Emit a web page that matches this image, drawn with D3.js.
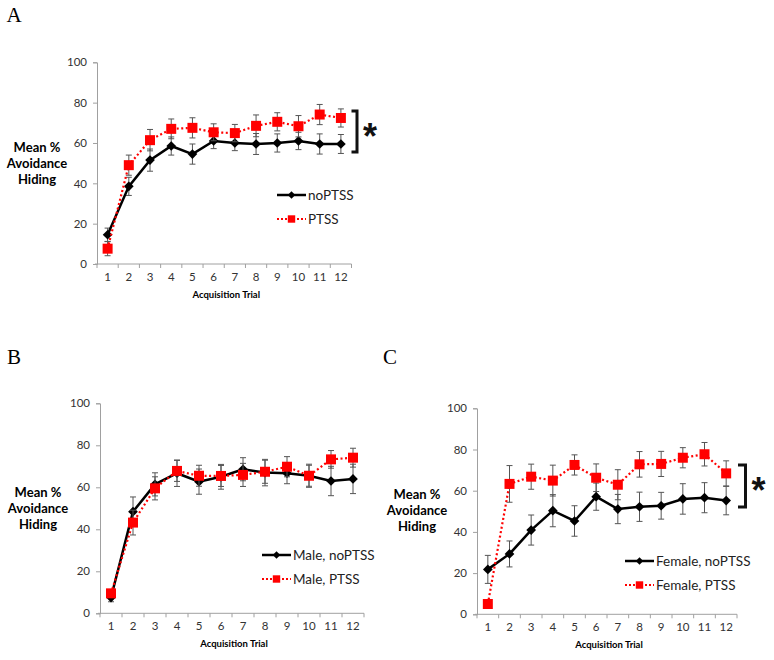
<!DOCTYPE html>
<html>
<head>
<meta charset="utf-8">
<script src="https://cdn.jsdelivr.net/npm/d3@7"></script>
<style>
  body { margin: 0; background: #fff; }
  svg { display: block; }
</style>
</head>
<body>
<svg id="chart" width="774" height="660"></svg>
<script>
// ---- data ----
const trials = ["1", "2", "3", "4", "5", "6", "7", "8", "9", "10", "11", "12"];
const yTicks = [0, 20, 40, 60, 80, 100];

// panel A: all subjects
const allNoPtss = [14.5, 38.5, 51.5, 58.5, 54.5, 61, 60, 59.5, 60, 61, 59.5, 59.5];
const allNoPtssErr = [3.3, 4.5, 5.5, 4.5, 5, 3.8, 3.8, 5.2, 4.5, 4.3, 5, 4.7];
const allPtss = [7.6, 49, 61.4, 67, 67.5, 65.3, 64.9, 68.5, 70.5, 68.3, 74.1, 72.4];
const allPtssErr = [3.5, 5, 5.3, 4.9, 5, 4.2, 4.3, 5.4, 4.5, 5.3, 5, 4.5];

// panel B: males
const maleNoPtss = [7.5, 48.4, 61.4, 66.7, 62.7, 65, 68.6, 67, 66.7, 65.5, 63, 64];
const maleNoPtssErr = [2, 7, 5.5, 6.3, 6, 5.9, 5.5, 6.3, 5, 5.5, 7, 7];
const malePtss = [9.5, 43.2, 59.5, 67.8, 65.5, 65.4, 65.9, 67.4, 69.8, 65.5, 73.3, 74.1];
const malePtssErr = [1.5, 5.9, 5.5, 5, 5, 5, 5.5, 5.5, 4.8, 5, 4.2, 4.5];

// panel C: females
const femaleNoPtss = [21.8, 29.3, 40.9, 50.3, 45.3, 57.1, 51.1, 52.2, 52.7, 56, 56.6, 55.2];
const femaleNoPtssErr = [6.8, 6.3, 7.3, 7.8, 7.4, 6.6, 7.1, 7.1, 6.5, 7.4, 7.3, 6.9];
const femalePtss = [5, 63.3, 66.8, 64.9, 72.5, 66.3, 62.9, 72.8, 73, 76, 77.7, 68.4];
const femalePtssErr = [0.8, 8.9, 6.1, 7.5, 4.9, 6.7, 7.3, 6.2, 6.1, 4.9, 5.7, 6.1];

const svg = d3.select("#chart");
const uiFont = "Lato, 'Open Sans', sans-serif";

function drawPanel(p) {
    const g = svg.append("g");

    const x = d3.scaleBand().domain(trials).range([p.left, p.right]);
    const y = d3.scaleLinear().domain([0, 100]).range([p.bottom, p.top]);
    const cx = d => x(d) + x.bandwidth() / 2;

    // panel letter
    g.append("text")
        .attr("x", p.letterX).attr("y", p.letterY)
        .attr("text-anchor", "middle")
        .attr("font-family", "'Liberation Serif', 'DejaVu Serif', serif")
        .attr("font-size", 21)
        .text(p.letter);

    // y axis
    const yAxis = g.append("g")
        .attr("transform", `translate(${p.left},0)`)
        .call(d3.axisLeft(y).tickValues(yTicks).tickSize(4).tickPadding(6));
    yAxis.select(".domain").attr("stroke", "#a0a0a0");
    yAxis.selectAll(".tick line").attr("stroke", "#a0a0a0");
    yAxis.selectAll("text").attr("font-family", uiFont).attr("font-size", 11.5).attr("fill", "#333");

    // x axis (ticks at category boundaries, like Excel)
    const xAxis = g.append("g")
        .attr("transform", `translate(0,${p.bottom})`)
        .call(d3.axisBottom(x).tickSize(0).tickPadding(9));
    xAxis.select(".domain").attr("stroke", "#a0a0a0")
        .attr("d", `M${p.left - 2},0H${p.right}`);
    xAxis.selectAll("text").attr("font-family", uiFont).attr("font-size", 11.5).attr("fill", "#333");
    xAxis.selectAll(".boundary")
        .data(d3.range(trials.length + 1))
        .join("line")
        .attr("class", "boundary")
        .attr("x1", i => p.left + i * x.step())
        .attr("x2", i => p.left + i * x.step())
        .attr("y1", 0).attr("y2", 4)
        .attr("stroke", "#a0a0a0");

    g.append("text")
        .attr("x", (p.left + p.right) / 2 + 2)
        .attr("y", p.bottom + 34)
        .attr("text-anchor", "middle")
        .attr("font-family", uiFont)
        .attr("font-weight", "bold")
        .attr("font-size", 9.5)
        .text("Acquisition Trial");

    // y label
    const ylab = g.append("text")
        .attr("text-anchor", "middle")
        .attr("font-family", uiFont)
        .attr("font-weight", "bold")
        .attr("font-size", 13);
    ["Mean %", "Avoidance", "Hiding"].forEach((t, i) => {
        ylab.append("tspan")
            .attr("x", p.ylabX)
            .attr("y", p.ylabY + i * 16)
            .text(t);
    });

    const line = d3.line().x((d, i) => cx(trials[i])).y(d => y(d));
    const diamond = d3.symbol().type(d3.symbolDiamond2).size(60);
    const square = d3.symbol().type(d3.symbolSquare).size(100);

    p.series.forEach(s => {
        const sg = g.append("g");
        // error bars
        const eb = sg.selectAll(".err")
            .data(s.values.map((v, i) => ({ v, e: s.err[i], t: trials[i] })))
            .join("g");
        eb.append("line")
            .attr("x1", d => cx(d.t)).attr("x2", d => cx(d.t))
            .attr("y1", d => y(d.v - d.e)).attr("y2", d => y(d.v + d.e))
            .attr("stroke", "#555").attr("stroke-width", 1);
        [1, -1].forEach(sign => {
            eb.append("line")
                .attr("x1", d => cx(d.t) - 3).attr("x2", d => cx(d.t) + 3)
                .attr("y1", d => y(d.v + sign * d.e)).attr("y2", d => y(d.v + sign * d.e))
                .attr("stroke", "#555").attr("stroke-width", 1);
        });

        sg.append("path")
            .datum(s.values)
            .attr("fill", "none")
            .attr("stroke", s.color)
            .attr("stroke-width", s.dotted ? 2.2 : 2.5)
            .attr("stroke-dasharray", s.dotted ? "2,2.5" : null)
            .attr("d", line);

        sg.selectAll(".mk")
            .data(s.values)
            .join("path")
            .attr("transform", (d, i) => `translate(${cx(trials[i])},${y(d)})`)
            .attr("d", s.dotted ? square : diamond)
            .attr("fill", s.color);
    });

    // legend
    const leg = g.append("g");
    p.series.forEach((s, i) => {
        const ly = p.legY + i * 24;
        leg.append("line")
            .attr("x1", p.legX).attr("x2", p.legX + 29)
            .attr("y1", ly).attr("y2", ly)
            .attr("stroke", s.color)
            .attr("stroke-width", s.dotted ? 2 : 2.5)
            .attr("stroke-dasharray", s.dotted ? "2,2" : null);
        leg.append("path")
            .attr("transform", `translate(${p.legX + 14.5},${ly})`)
            .attr("d", s.dotted ? d3.symbol().type(d3.symbolSquare).size(55)()
                                : d3.symbol().type(d3.symbolDiamond2).size(35)())
            .attr("fill", s.color);
        leg.append("text")
            .attr("x", p.legX + 31).attr("y", ly)
            .attr("dy", "0.35em")
            .attr("font-family", uiFont)
            .attr("font-size", 13.5)
            .attr("fill", "#222")
            .text(s.name);
    });

    // significance bracket
    if (p.bracket) {
        const b = p.bracket;
        g.append("path")
            .attr("d", `M${b.x},${b.y1}H${b.x + b.w}V${b.y2}H${b.x}`)
            .attr("fill", "none")
            .attr("stroke", "#111")
            .attr("stroke-width", 3);
        g.append("text")
            .attr("x", b.x + b.w + 13)
            .attr("y", (b.y1 + b.y2) / 2 + 17)
            .attr("text-anchor", "middle")
            .attr("font-family", "'Liberation Sans', Arial, sans-serif")
            .attr("font-weight", "bold")
            .attr("font-size", 36)
            .attr("fill", "#111")
            .text("*");
    }
}

drawPanel({
    letter: "A", letterX: 14, letterY: 22,
    left: 97, right: 351.5, top: 62.3, bottom: 264,
    ylabX: 37, ylabY: 152,
    legX: 277, legY: 195,
    bracket: { x: 351.5, w: 5.5, y1: 111, y2: 152 },
    series: [
        { name: "noPTSS", values: allNoPtss, err: allNoPtssErr, color: "#000", dotted: false },
        { name: "PTSS", values: allPtss, err: allPtssErr, color: "#ff0000", dotted: true }
    ]
});

drawPanel({
    letter: "B", letterX: 14, letterY: 364,
    left: 100, right: 364, top: 403.3, bottom: 613.3,
    ylabX: 38, ylabY: 497,
    legX: 262, legY: 555,
    series: [
        { name: "Male, noPTSS", values: maleNoPtss, err: maleNoPtssErr, color: "#000", dotted: false },
        { name: "Male, PTSS", values: malePtss, err: malePtssErr, color: "#ff0000", dotted: true }
    ]
});

drawPanel({
    letter: "C", letterX: 390, letterY: 364,
    left: 477, right: 737, top: 408.3, bottom: 614.3,
    ylabX: 417, ylabY: 499,
    legX: 625, legY: 561,
    bracket: { x: 738, w: 7.5, y1: 465, y2: 507 },
    series: [
        { name: "Female, noPTSS", values: femaleNoPtss, err: femaleNoPtssErr, color: "#000", dotted: false },
        { name: "Female, PTSS", values: femalePtss, err: femalePtssErr, color: "#ff0000", dotted: true }
    ]
});
</script>
</body>
</html>
